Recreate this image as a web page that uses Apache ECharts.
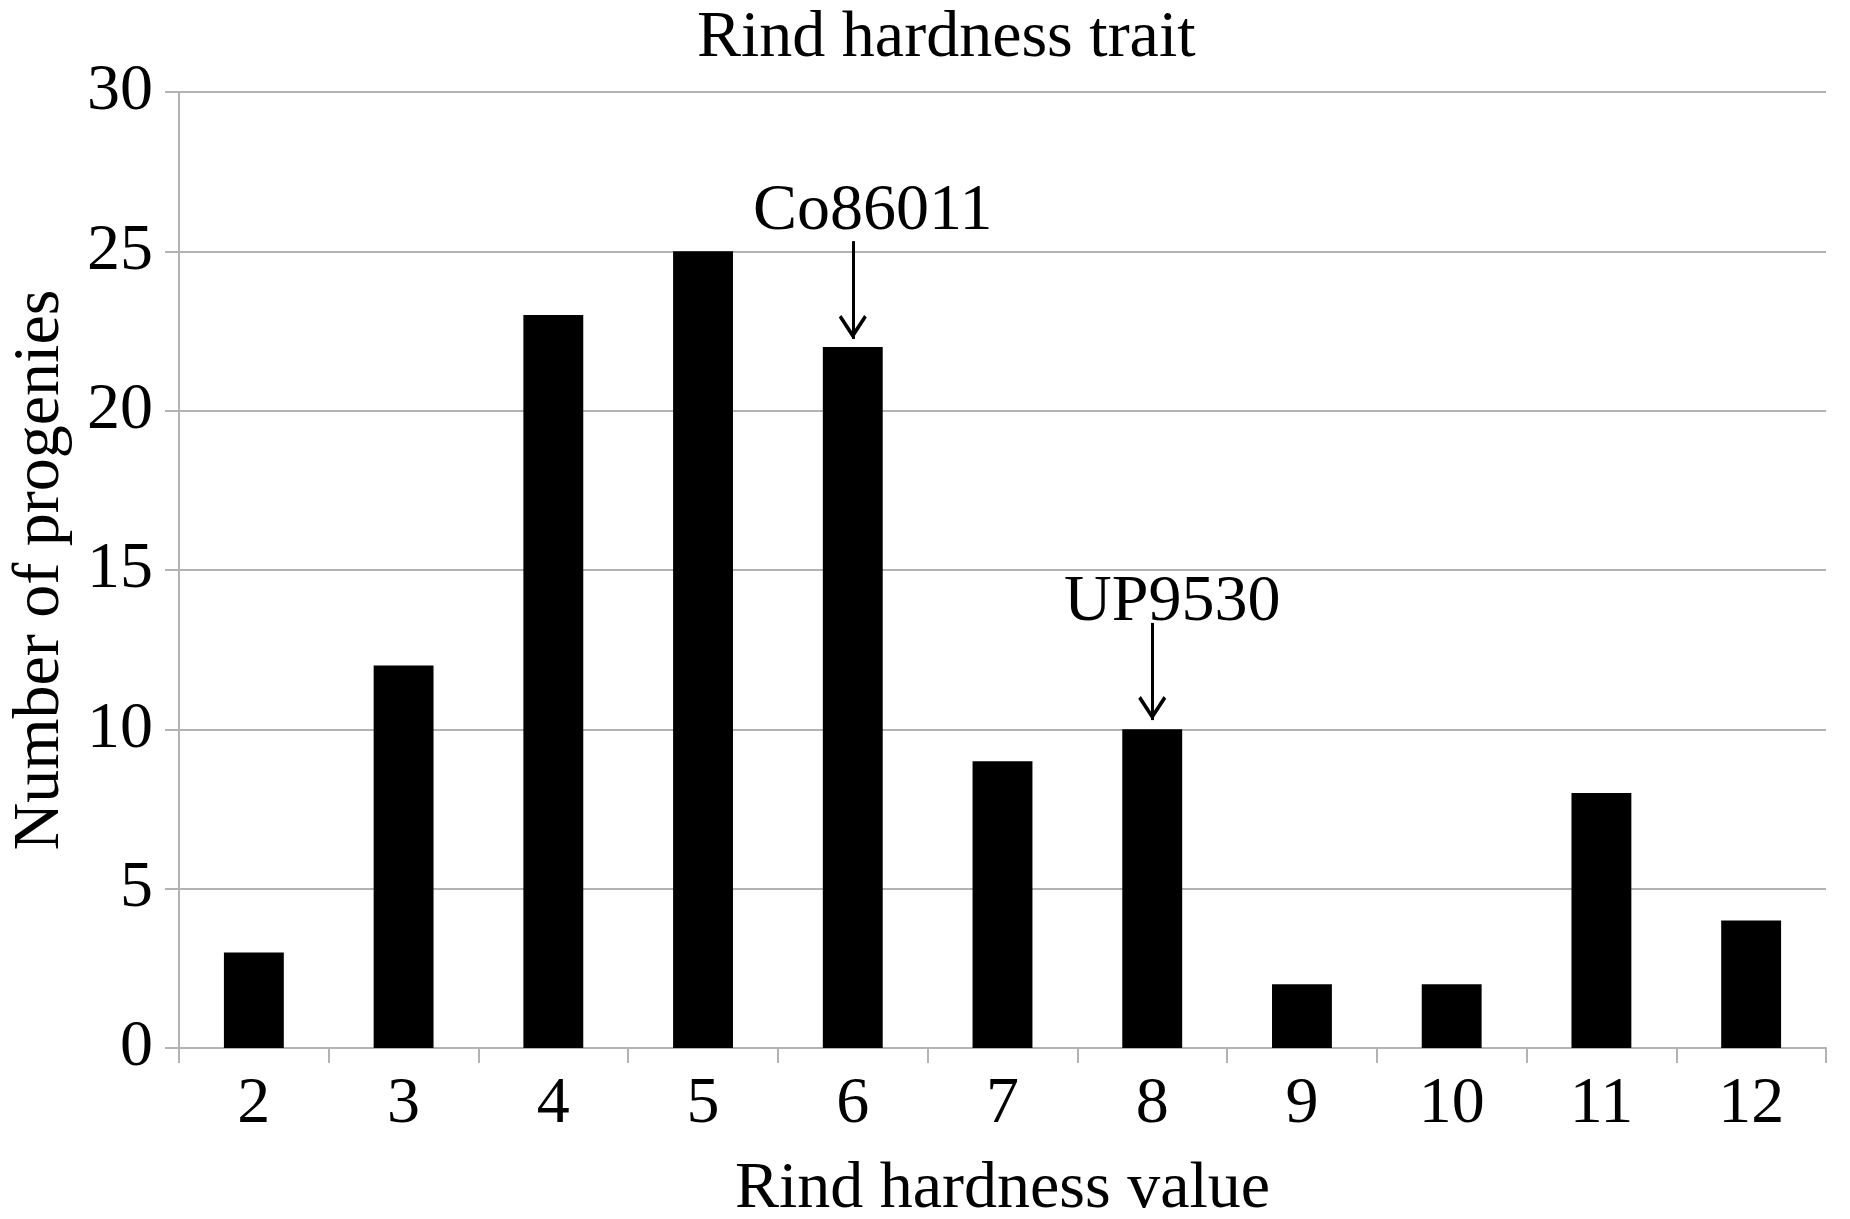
<!DOCTYPE html>
<html>
<head>
<meta charset="utf-8">
<script src="https://cdn.jsdelivr.net/npm/echarts@6/dist/echarts.min.js"></script>
<style>
    html, body { margin: 0; padding: 0; background: #fff; }
    #main { width: 1850px; height: 1219px; }
</style>
</head>
<body>
<div id="main"></div>
<script>
    // data
    var categories = ['2', '3', '4', '5', '6', '7', '8', '9', '10', '11', '12'];
    var progenies = [3, 12, 23, 25, 22, 9, 10, 2, 2, 8, 4];

    // arrow notes: which bar, text baseline, arrow start, arrow tip (in counts)
    var noteNames = ['Co86011', 'UP9530'];
    var noteCats = ['6', '8'];
    var noteTextY = [25.63, 13.37];
    var noteFromY = [25.32, 13.34];
    var noteToY = [22.25, 10.29];

    var font = "'Liberation Serif', 'Times New Roman', serif";
    var gray = '#b3b3b3';

    var chart = echarts.init(document.getElementById('main'));

    var arrowLines = [];
    var notePoints = [];
    for (var i = 0; i < noteNames.length; i++) {
        arrowLines.push([
            {coord: [noteCats[i], noteFromY[i]]},
            {coord: [noteCats[i], noteToY[i]]}
        ]);
        notePoints.push({
            coord: [noteCats[i], noteTextY[i]],
            value: noteNames[i]
        });
    }

    var option = {
        animation: false,
        title: {
            text: 'Rind hardness trait',
            left: 697,
            top: 6,
            padding: 0,
            textStyle: {fontFamily: font, fontSize: 66, fontWeight: 'normal', color: '#000'}
        },
        grid: {left: 179, right: 24, top: 92, bottom: 171, containLabel: false, outerBoundsMode: 'none'},
        xAxis: {
            type: 'category',
            data: categories,
            name: 'Rind hardness value',
            nameLocation: 'middle',
            nameGap: 109,
            nameTextStyle: {fontFamily: font, fontSize: 66, color: '#000'},
            axisLine: {lineStyle: {color: gray, width: 2}},
            axisTick: {show: true, length: 15, lineStyle: {color: gray, width: 2}},
            axisLabel: {fontFamily: font, fontSize: 66, color: '#000', margin: 24}
        },
        yAxis: {
            type: 'value',
            min: 0,
            max: 30,
            interval: 5,
            name: 'Number of progenies',
            nameLocation: 'middle',
            nameGap: 105,
            nameTextStyle: {fontFamily: font, fontSize: 66, color: '#000'},
            axisLine: {show: true, lineStyle: {color: gray, width: 2}},
            axisTick: {show: true, length: 14, lineStyle: {color: gray, width: 2}},
            splitLine: {lineStyle: {color: gray, width: 2}},
            axisLabel: {fontFamily: font, fontSize: 66, color: '#000', margin: 26}
        },
        series: [{
            type: 'bar',
            data: progenies,
            barWidth: '40%',
            itemStyle: {color: '#000'},
            markLine: {
                silent: true,
                symbol: ['none', 'path://M14,0 L28,21 L25.4,23.6 L14,6.5 L2.6,23.6 L0,21 Z'],
                symbolSize: [28, 24],
                symbolOffset: [0, [0, 12]],
                label: {show: false},
                lineStyle: {color: '#000', width: 3, type: 'solid'},
                data: arrowLines
            },
            markPoint: {
                silent: true,
                symbol: 'rect',
                symbolSize: 1,
                itemStyle: {color: 'rgba(0,0,0,0)'},
                label: {
                    show: true,
                    position: 'top',
                    distance: 0,
                    offset: [20, 14],
                    formatter: '{c}',
                    fontFamily: font,
                    fontSize: 66,
                    color: '#000'
                },
                data: notePoints
            }
        }]
    };

    chart.setOption(option);
</script>
</body>
</html>
